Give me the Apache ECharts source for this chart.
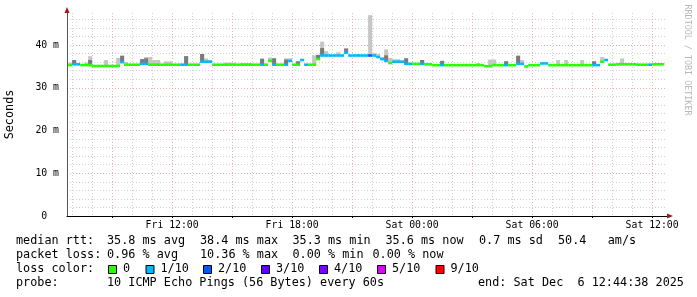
<!DOCTYPE html>
<html><head><meta charset="utf-8">
<script src="https://cdn.jsdelivr.net/npm/echarts@6/dist/echarts.min.js"></script>
<style>html,body{margin:0;padding:0;background:#fff}#c{width:697px;height:297px}</style>
</head><body><div id="c"></div><script>
// time in hours since Fri 00:00
const axisStartHour = 6 + 44.633 / 60;   // Fri 06:44:38
const axisEndHour = 30 + axisStartHour;    // Sat 12:44:38
const binStartHour = 6.8;                  // first 12-minute bin starts Fri 06:48
const binHours = 0.2;

// median rtt (ms) per 12-minute bin
const median = [
 35.3,35.5,35.5,35.3,35.3,35.3,35.1,35.1,35.1,35.1, 35.1,35.1,35.1,36.0,35.4,35.4,35.4,35.4,35.6,35.6,
 35.4,35.4,35.4,35.4,35.4,35.4,35.4,35.4,35.4,35.4, 35.4,35.4,35.4,36.1,36.1,36.1,35.4,35.4,35.4,35.4,
 35.4,35.4,35.4,35.4,35.4,35.4,35.4,35.4,35.4,35.4, 36.3,35.4,35.4,35.4,35.4,36.3,35.4,35.4,36.5,35.4,
 35.4,35.4,36.7,37.55,37.55,37.55,37.55,37.55,37.55,38.2, 37.55,37.55,37.55,37.55,37.55,37.55,37.55,37.2,36.7,36.3,
 35.8,36.1,36.1,36.1,35.6,35.6,35.6,35.6,35.6,35.5, 35.5,35.3,35.3,35.3,35.3,35.3,35.3,35.3,35.3,35.3,
 35.3,35.3,35.3,35.3,35.05,35.05,35.3,35.3,35.3,35.3, 35.3,35.3,35.6,35.6,35.0,35.3,35.3,35.3,35.7,35.7,
 35.3,35.3,35.3,35.3,35.3,35.3,35.3,35.3,35.3,35.3, 35.3,35.3,35.3,36.1,36.5,35.4,35.4,35.5,35.5,35.5,
 35.5,35.5,35.4,35.4,35.4,35.4,35.5,35.5,35.5,null
];
// lost pings out of 10 per bin
const loss = [
 0,1,1,0,0,0,0,0,0,0, 0,0,0,1,0,0,0,0,1,1,
 0,0,0,0,0,0,0,0,1,1, 0,0,0,1,1,1,0,0,0,0,
 0,0,0,0,0,0,0,0,1,0, 0,1,0,0,1,1,0,0,1,1,
 0,0,0,1,1,1,1,1,1,1, 1,1,1,1,1,2,1,1,1,1,
 0,1,1,1,1,1,0,0,1,0, 0,0,0,1,0,0,0,0,0,0,
 0,0,0,0,0,0,0,0,0,1, 0,0,1,1,0,0,0,0,1,1,
 0,0,0,0,0,0,0,0,0,0, 0,1,1,0,1,0,0,0,0,0,
 0,0,0,0,0,1,0,0,0,0
];
// top of the light smoke (slowest pings, ms)
const smokeMax = [
 35.9,36.5,35.8,null,35.9,37.4,null,null,null,36.5, null,null,37.0,37.5,36.0,null,null,null,36.7,37.2,
 37.2,36.5,36.5,null,36.2,36.2,null,null,null,37.4, null,null,null,37.9,36.9,36.5,null,null,null,35.9,
 35.9,35.9,null,35.8,35.8,35.8,null,null,36.8,null, 37.1,36.9,null,null,36.9,36.9,null,36.2,36.6,null,
 null,37.6,37.7,40.8,38.6,null,null,38.3,null,39.2, null,null,37.9,null,null,47.0,38.1,37.9,37.2,39.0,
 37.0,36.7,36.7,36.4,36.9,null,null,null,36.5,null, null,null,null,36.3,null,null,null,null,null,null,
 null,null,35.8,null,null,36.6,36.6,null,null,36.2, null,null,37.5,36.5,null,null,null,null,null,null,
 null,null,36.5,null,36.5,null,null,null,36.5,null, null,36.2,null,37.2,36.5,null,null,null,36.9,null,
 null,35.8,null,null,null,null,null,null,35.8,null
];
// top of the dark smoke (middle pings, ms)
const smokeMid = [
 null,36.5,null,null,null,36.5,null,null,null,null, null,null,null,37.5,null,null,null,null,36.7,36.9,
 null,null,null,null,null,null,null,null,null,37.4, null,null,null,37.9,null,null,null,null,null,null,
 null,null,null,null,null,null,null,null,36.8,null, null,36.9,null,null,36.6,null,null,36.2,36.5,null,
 null,null,37.7,39.3,null,null,null,null,null,39.2, null,null,null,null,null,null,null,null,null,37.6,
 null,null,null,null,36.9,null,null,null,36.5,null, null,null,null,36.3,null,null,null,null,null,null,
 null,null,null,null,null,null,null,null,null,36.2, null,null,37.5,null,null,null,null,null,null,null,
 null,null,null,null,null,null,null,null,null,null, null,36.2,null,null,null,null,null,null,null,null,
 null,null,null,null,null,null,null,null,null,null
];

const lossColors = {0:'#26ff00',1:'#00b8ff',2:'#0059ff',3:'#5e00ff',4:'#7e00ff',5:'#dd00ff',9:'#ff0000'};
const lossLegend = ['0','1/10','2/10','3/10','4/10','5/10','9/10'];
const lossLegendKeys = [0,1,2,3,4,5,9];

const yMajorTicks = [0,10,20,30,40];
const yMinorTicks = [2,4,6,8,12,14,16,18,22,24,26,28,32,34,36,38,42,44,46];
const xHourTicks = [7,8,10,11,13,14,16,17,19,20,22,23,25,26,28,29,31,32,34,35];
const xMajorTicks = [9,12,15,18,21,24,27,30,33,36];
const xLabelTicks = [12,18,24,30,36];

const statsRtt = ['35.8 ms avg','38.4 ms max','35.3 ms min','35.6 ms now','0.7 ms sd','50.4   am/s'];
const statsLoss = ['0.96 % avg','10.36 % max','0.00 % min','0.00 % now'];
const probeText = '10 ICMP Echo Pings (56 Bytes) every 60s';
const endText = 'end: Sat Dec  6 12:44:38 2025';

const MONO = 'DejaVu Sans Mono';
const chart = echarts.init(document.getElementById('c'), null, {renderer:'canvas'});

const medData = [], lightData = [], darkData = [];
median.forEach((v, i) => {
  if (v == null) return;
  const x0 = binStartHour + i * binHours, x1 = x0 + binHours;
  medData.push([x0, x1, v, loss[i]]);
  if (smokeMax[i] != null) lightData.push([x0, x1, v, smokeMax[i]]);
  if (smokeMid[i] != null) darkData.push([x0, x1, v, smokeMid[i]]);
});

function clipX(cs, a, b) {
  const l = Math.max(a, cs.x), r = Math.min(b, cs.x + cs.width);
  return [l, Math.max(0, r - l)];
}
function smokeRender(color) {
  return function (params, api) {
    const p0 = api.coord([api.value(0), api.value(3)]);
    const p1 = api.coord([api.value(1), api.value(2)]);
    const [l, w] = clipX(params.coordSys, p0[0], p1[0]);
    return {type:'rect', shape:{x:l, y:p0[1], width:w, height:p1[1]-p0[1]}, style:{fill:color}};
  };
}
function medRender(params, api) {
  const p0 = api.coord([api.value(0), api.value(2)]);
  const p1 = api.coord([api.value(1), api.value(2)]);
  const [l, w] = clipX(params.coordSys, p0[0], p1[0]);
  return {type:'rect', shape:{x:l, y:p0[1]-1.3, width:w, height:2.6},
          style:{fill: lossColors[api.value(3)]}};
}

function hourLabel(h) {
  const day = h < 24 ? 'Fri' : 'Sat';
  const hh = Math.round(h % 24);
  return day + ' ' + String(hh).padStart(2,'0') + ':00';
}

const xCommon = {type:'value', min:axisStartHour, max:axisEndHour, gridIndex:0};
const yCommon = {type:'value', min:0, max:47.5, gridIndex:0};
const dotted = (c) => ({show:true, lineStyle:{color:c, width:1, type:[1,2]}});

// legend graphics
const g = [];
const rowY = [241, 255, 269, 283];
function txt(s, x, y, extra) {
  g.push(Object.assign({type:'text', x:x, y:y, style:{text:s, font:'11.8px "'+MONO+'"', fill:'#000', verticalAlign:'middle'}}, extra||{}));
}
txt('median rtt:', 16, rowY[0]);
const rttX = [107, 200, 292.5, 385.5, 479, 558];
statsRtt.forEach((s, k) => txt(s, rttX[k], rowY[0]));
txt('packet loss:', 16, rowY[1]);
const lossX = [107, 200, 292.5, 372.5];
statsLoss.forEach((s, k) => txt(s, lossX[k], rowY[1]));
txt('loss color:', 16, rowY[2]);
const sqX = [108, 145.5, 203, 261, 319, 377, 435.5];
lossLegend.forEach((s, k) => {
  g.push({type:'rect', shape:{x:sqX[k]+0.5, y:265.5, width:8, height:8},
          style:{fill:lossColors[lossLegendKeys[k]], stroke:'#000', lineWidth:1}});
  txt(s, sqX[k]+15, rowY[2]);
});
txt('probe:', 16, rowY[3]);
txt(probeText, 107, rowY[3]);
txt(endText, 478, rowY[3]);
g.push({type:'text', x:687, y:60, rotation:-Math.PI/2,
        style:{text:'RRDTOOL / TOBI OETIKER', font:'8.4px "'+MONO+'"', fill:'#b8b8b8', align:'center', verticalAlign:'middle'}});

const option = {
  animation:false,
  backgroundColor:'#ffffff',
  grid:{left:67, right:30, top:13, bottom:81, containLabel:false, outerBoundsMode:'none'},
  xAxis:[
    Object.assign({}, xCommon, {
      axisLine:{show:true, lineStyle:{color:'#000', width:1}},
      axisTick:{show:true, customValues:xMajorTicks, length:2, lineStyle:{color:'#000'}},
      axisLabel:{show:true, customValues:xLabelTicks, formatter:hourLabel, color:'#000',
                 fontFamily:MONO, fontSize:9.8, margin:4},
      splitLine:dotted('#e8b0b0')
    }),
    Object.assign({}, xCommon, {
      axisLine:{show:false}, axisTick:{show:false, customValues:xHourTicks},
      axisLabel:{show:false}, splitLine:dotted('#d0d0d0')
    }),
    Object.assign({}, xCommon, {
      axisLine:{show:true, symbol:['none','triangle'], symbolSize:[5,6], symbolOffset:[0,3],
                lineStyle:{color:'#a01818', width:0}},
      axisTick:{show:false}, axisLabel:{show:false}, splitLine:{show:false}
    })
  ],
  yAxis:[
    Object.assign({}, yCommon, {
      name:'Seconds', nameLocation:'middle', nameGap:51, nameRotate:90,
      nameTextStyle:{fontFamily:MONO, fontSize:11.8, color:'#000'},
      axisLine:{show:true, lineStyle:{color:'#555', width:1}},
      axisTick:{show:false, customValues:yMajorTicks},
      axisLabel:{show:true, customValues:yMajorTicks, color:'#000', fontFamily:MONO, fontSize:9.8, margin:8,
                 formatter: v => v === 0 ? '0\u00a0\u00a0' : v + ' m'},
      splitLine:dotted('#e8b0b0')
    }),
    Object.assign({}, yCommon, {
      position:'left',
      axisLine:{show:false}, axisTick:{show:false, customValues:yMinorTicks},
      axisLabel:{show:false}, splitLine:dotted('#d0d0d0')
    }),
    Object.assign({}, yCommon, {
      position:'left',
      axisLine:{show:true, symbol:['none','triangle'], symbolSize:[5,6], symbolOffset:[0,3],
                lineStyle:{color:'#a01818', width:0}},
      axisTick:{show:false}, axisLabel:{show:false}, splitLine:{show:false}
    })
  ],
  series:[
    {type:'custom', name:'smoke light', xAxisIndex:0, yAxisIndex:0, data:lightData,
     encode:{x:[0,1], y:[2,3]}, renderItem:smokeRender('#c6c6c6'), z:2, silent:true},
    {type:'custom', name:'smoke dark', xAxisIndex:0, yAxisIndex:0, data:darkData,
     encode:{x:[0,1], y:[2,3]}, renderItem:smokeRender('#7a7a7a'), z:3, silent:true},
    {type:'custom', name:'median rtt', xAxisIndex:0, yAxisIndex:0, data:medData,
     encode:{x:[0,1], y:2}, renderItem:medRender, z:4, silent:true}
  ],
  graphic:g
};
chart.setOption(option);
</script></body></html>
